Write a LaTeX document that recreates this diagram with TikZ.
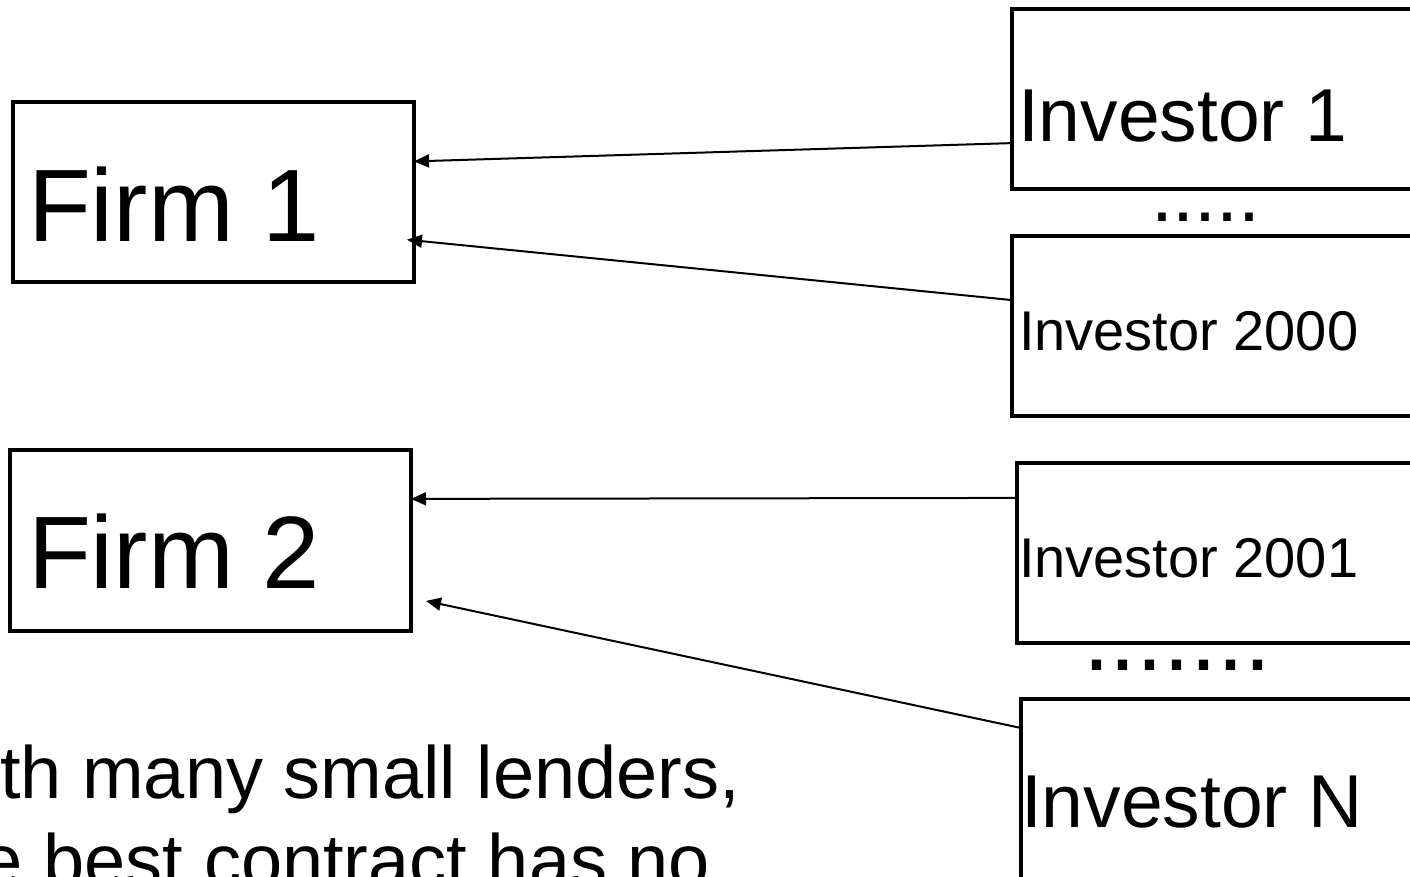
\documentclass[tikz,border=0pt]{standalone}
\usepackage{fontspec}
\setmainfont{Liberation Sans}
\usetikzlibrary{arrows.meta,calc}

\tikzset{
  box/.style={draw, line width=3.2pt, rectangle, inner sep=0pt, outer sep=0pt},
  txt/.style={inner sep=0pt, outer sep=0pt, anchor=base west},
  link/.style={line width=2pt, -{Triangle[length=15pt,width=13pt]}},
}
\newcommand{\fsz}[1]{\fontsize{#1}{#1}\selectfont}

\begin{document}
\begin{tikzpicture}[x=1pt,y=-1pt]
  \useasboundingbox (0,0) rectangle (1410,877);
  \clip (0,0) rectangle (1410,877);
  \fill[white] (0,0) rectangle (1410,877);

  % firms
  \node[box, minimum width=401pt, minimum height=180pt] (firm1) at (213.5,192) {};
  \node[box, minimum width=401pt, minimum height=181pt] (firm2) at (210.5,540.5) {};
  \node[txt, font=\fsz{103}] (firm1txt) at (28,242) {Firm 1};
  \node[txt, font=\fsz{103}] (firm2txt) at (28,588) {Firm 2};

  % investors (boxes run past the right edge)
  \node[box, minimum width=418pt, minimum height=180pt] (inv1) at (1221,99) {};
  \node[box, minimum width=418pt, minimum height=180pt] (inv2000) at (1221,326) {};
  \node[box, minimum width=413pt, minimum height=180pt] (inv2001) at (1223.5,553) {};
  \node[box, minimum width=409pt, minimum height=200pt] (invN) at (1225.5,799) {};

  \node[txt, font=\fsz{75}] (inv1txt) at (1018,142) {Investor 1};
  \node[txt, font=\fsz{56}] (inv2000txt) at (1019,350) {Investor 2000};
  \node[txt, font=\fsz{56}] (inv2001txt) at (1019,577) {Investor 2001};
  \node[txt, font=\fsz{75}] (invNtxt) at (1021,827) {Investor N};

  % ellipses between investor groups
  \node[txt, font=\fsz{79}] (dotsA) at (1151,222) {.....};
  \node[txt, font=\fsz{97}] (dotsB) at (1083,670) {.......};

  % funding links
  \draw[link] ($(inv1.north west)!0.745!(inv1.south west)$)
           -- ($(firm1.north east)!0.33!(firm1.south east)$);
  \draw[link] ($(inv2000.north west)!0.356!(inv2000.south west)$)
           -- ($(firm1.north east)!0.765!(firm1.south east)+(-7,0)$);
  \draw[link] ($(inv2001.north west)!0.194!(inv2001.south west)$)
           -- ($(firm2.north east)!0.27!(firm2.south east)$);
  \draw[link] ($(invN.north west)!0.145!(invN.south west)$)
           -- ($(firm2.north east)!0.834!(firm2.south east)+(15,0)$);

  % caption
  \node[txt, font=\fsz{74}] (cap1) at (0,798) {th many small lenders,};
  \node[txt, font=\fsz{74}] (cap2) at (-18,886) {e best contract has no};
\end{tikzpicture}
\end{document}
